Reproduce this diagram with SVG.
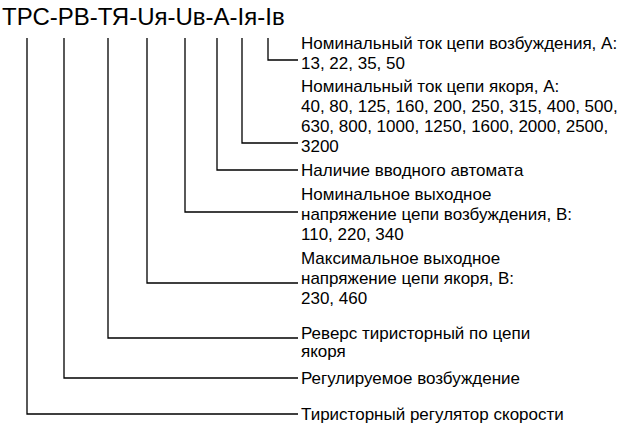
<svg xmlns="http://www.w3.org/2000/svg" width="630" height="425" viewBox="0 0 630 425">
<style>
text{font-family:"Liberation Sans",Arial,sans-serif;font-size:17px;fill:#000}
.t{font-size:24px}
.c path{fill:none;stroke:#000;stroke-width:1.3}
</style>
<rect width="630" height="425" fill="#fff"/>
<text class="t" x="2" y="25">ТРС-РВ-ТЯ-Uя-Uв-А-Iя-Iв</text>
<g class="c" id="connectors">
<path d="M268 38V60H298"/>
<path d="M242 38V143H298"/>
<path d="M217 38V170H298"/>
<path d="M185 38V212H298"/>
<path d="M147 38V283H298"/>
<path d="M108 38V338H298"/>
<path d="M64 38V378H298"/>
<path d="M27 38V414H298"/>
</g>
<g id="n1"><text x="301" y="49">Номинальный ток цепи возбуждения, А:</text><text x="301" y="69">13, 22, 35, 50</text></g>
<g id="n2"><text x="301" y="92">Номинальный ток цепи якоря, А:</text><text x="301" y="112">40, 80, 125, 160, 200, 250, 315, 400, 500,</text><text x="301" y="132">630, 800, 1000, 1250, 1600, 2000, 2500,</text><text x="301" y="152">3200</text></g>
<g id="n3"><text x="301" y="176">Наличие вводного автомата</text></g>
<g id="n4"><text x="301" y="200">Номинальное выходное</text><text x="301" y="220">напряжение цепи возбуждения, В:</text><text x="301" y="240">110, 220, 340</text></g>
<g id="n5"><text x="301" y="264">Максимальное выходное</text><text x="301" y="284">напряжение цепи якоря, В:</text><text x="301" y="304">230, 460</text></g>
<g id="n6"><text x="301" y="339">Реверс тиристорный по цепи</text><text x="301" y="357">якоря</text></g>
<g id="n7"><text x="301" y="384">Регулируемое возбуждение</text></g>
<g id="n8"><text x="301" y="420">Тиристорный регулятор скорости</text></g>
</svg>
